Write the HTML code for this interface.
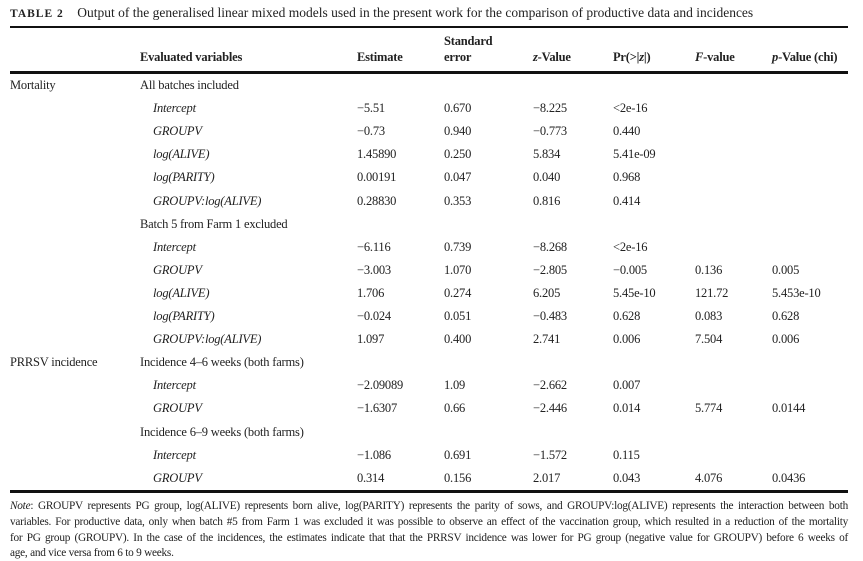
<!DOCTYPE html>
<html><head><meta charset="utf-8"><style>
body{margin:0;width:863px;height:556px;background:#fff;position:relative;overflow:hidden;font-family:"Liberation Serif",serif;color:#222;font-size:12.5px}
div.c{position:absolute;line-height:16px;white-space:nowrap;letter-spacing:-0.2px}
.i{font-style:italic}
.r{position:absolute;left:10px;width:838px;background:#111}
.n{position:absolute;left:10px;width:838px;font-size:11.3px;line-height:16px;text-align:justify;text-align-last:justify;white-space:nowrap;letter-spacing:-0.25px}
</style></head><body>
<div class="c" style="left:10px;top:5px;font-size:13.5px;letter-spacing:0"><b style="letter-spacing:1px;font-size:11.5px">TABLE 2</b>&nbsp;&nbsp;&nbsp; Output of the generalised linear mixed models used in the present work for the comparison of productive data and incidences</div>
<div class="r" style="top:26px;height:1.5px"></div>
<div class="c" style="left:444px;top:33px;font-weight:bold">Standard</div>
<div class="c" style="left:140px;top:49px;font-weight:bold">Evaluated variables</div>
<div class="c" style="left:357px;top:49px;font-weight:bold">Estimate</div>
<div class="c" style="left:444px;top:49px;font-weight:bold">error</div>
<div class="c" style="left:533px;top:49px;font-weight:bold"><i>z</i>-Value</div>
<div class="c" style="left:613px;top:49px;font-weight:bold">Pr(&gt;|<i>z</i>|)</div>
<div class="c" style="left:695px;top:49px;font-weight:bold"><i>F</i>-value</div>
<div class="c" style="left:772px;top:49px;font-weight:bold"><i>p</i>-Value (chi)</div>
<div class="r" style="top:71px;height:2.5px"></div>
<div id="rows"></div>
<script>
var rows=[
["Mortality","All batches included"],
["","Intercept","−5.51","0.670","−8.225","&lt;2e-16","",""],
["","GROUPV","−0.73","0.940","−0.773","0.440","",""],
["","log(ALIVE)","1.45890","0.250","5.834","5.41e-09","",""],
["","log(PARITY)","0.00191","0.047","0.040","0.968","",""],
["","GROUPV:log(ALIVE)","0.28830","0.353","0.816","0.414","",""],
["","Batch 5 from Farm 1 excluded"],
["","Intercept","−6.116","0.739","−8.268","&lt;2e-16","",""],
["","GROUPV","−3.003","1.070","−2.805","−0.005","0.136","0.005"],
["","log(ALIVE)","1.706","0.274","6.205","5.45e-10","121.72","5.453e-10"],
["","log(PARITY)","−0.024","0.051","−0.483","0.628","0.083","0.628"],
["","GROUPV:log(ALIVE)","1.097","0.400","2.741","0.006","7.504","0.006"],
["PRRSV incidence","Incidence 4–6 weeks (both farms)"],
["","Intercept","−2.09089","1.09","−2.662","0.007","",""],
["","GROUPV","−1.6307","0.66","−2.446","0.014","5.774","0.0144"],
["","Incidence 6–9 weeks (both farms)"],
["","Intercept","−1.086","0.691","−1.572","0.115","",""],
["","GROUPV","0.314","0.156","2.017","0.043","4.076","0.0436"]];
var xs=[357,444,533,613,695,772],h="";
rows.forEach(function(r,k){var y=77+k*23.1;
if(r[0])h+='<div class="c" style="left:10px;top:'+y+'px">'+r[0]+'</div>';
if(r.length==2)h+='<div class="c" style="left:140px;top:'+y+'px">'+r[1]+'</div>';
else{h+='<div class="c i" style="left:153px;top:'+y+'px">'+r[1]+'</div>';
for(var j=0;j<6;j++)if(r[j+2])h+='<div class="c" style="left:'+xs[j]+'px;top:'+y+'px">'+r[j+2]+'</div>';}});
document.getElementById('rows').innerHTML=h;
</script>
<div class="r" style="top:490px;height:2.5px"></div>
<div class="n" style="top:498px"><i>Note</i>: GROUPV represents PG group, log(ALIVE) represents born alive, log(PARITY) represents the parity of sows, and GROUPV:log(ALIVE) represents the interaction between both</div>
<div class="n" style="top:514px">variables. For productive data, only when batch #5 from Farm 1 was excluded it was possible to observe an effect of the vaccination group, which resulted in a reduction of the mortality</div>
<div class="n" style="top:530px">for PG group (GROUPV). In the case of the incidences, the estimates indicate that that the PRRSV incidence was lower for PG group (negative value for GROUPV) before 6 weeks of</div>
<div class="n" style="top:545px;text-align-last:left">age, and vice versa from 6 to 9 weeks.</div>
</body></html>
